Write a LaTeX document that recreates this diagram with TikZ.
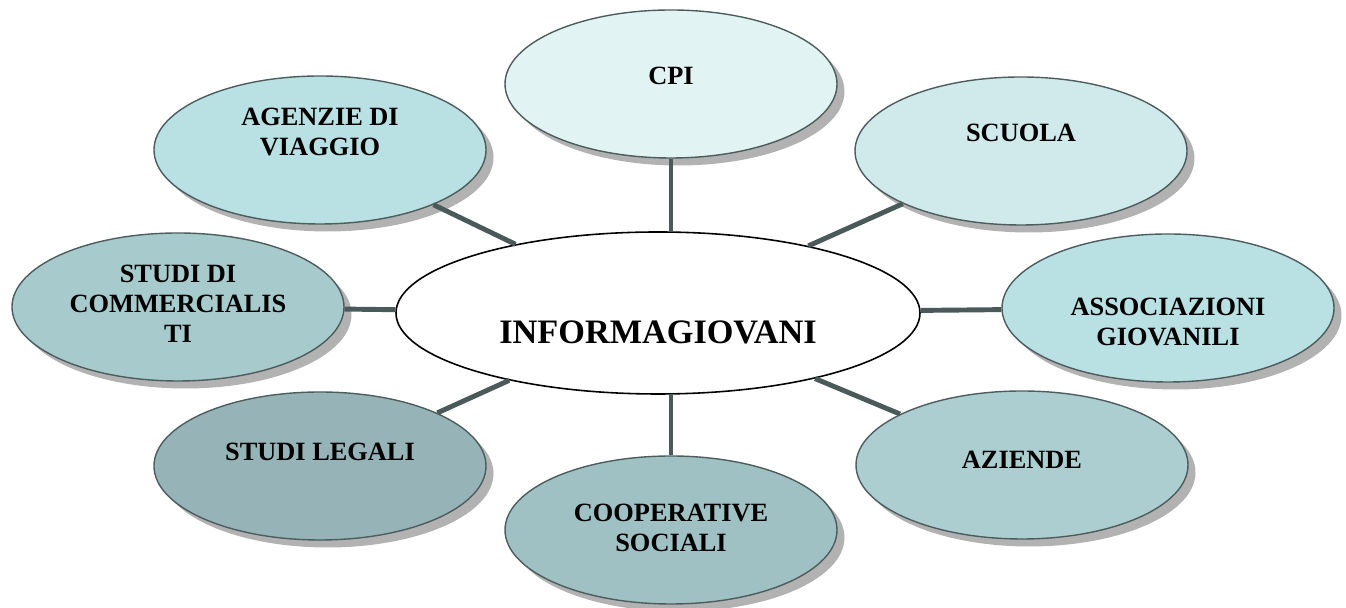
\documentclass[tikz,border=0pt]{standalone}
\usepackage{fontspec}
\setmainfont{Liberation Serif}
\usepackage{tikz}
\usetikzlibrary{shapes.geometric, shadows}
\definecolor{cpifill}{HTML}{E2F3F4}
\definecolor{scuolafill}{HTML}{D0E9EB}
\definecolor{agenziefill}{HTML}{B9E0E3}
\definecolor{assocfill}{HTML}{B9E0E3}
\definecolor{commercfill}{HTML}{A7CACC}
\definecolor{aziendefill}{HTML}{ACCED0}
\definecolor{coopfill}{HTML}{A0C1C3}
\definecolor{legalifill}{HTML}{96B4B7}
\definecolor{rim}{HTML}{4D5D5E}
\definecolor{spokecol}{HTML}{4A5A5A}
\tikzstyle{satellite} = [ellipse, minimum width=6.64cm, minimum height=2.96cm, inner sep=0pt, draw=rim, line width=0.8pt, drop shadow={shadow xshift=0.15cm, shadow yshift=-0.15cm, fill=black!30, opacity=1}]
\tikzstyle{hub} = [ellipse, minimum width=10.48cm, minimum height=3.24cm, inner sep=0pt, draw=black, line width=0.9pt, fill=white]
\tikzstyle{spoke} = [line width=2.8pt, draw=spokecol]
\tikzstyle{tag} = [align=center, inner sep=0pt, font={\fontsize{15pt}{17pt}\selectfont\bfseries}]
\tikzset{
  font={\fontsize{15pt}{17pt}\selectfont}}

\begin{document}
\begin{tikzpicture}
    \useasboundingbox (0,0) rectangle (26.92,12.16);

    \node (info) [hub] at (13.16,5.90) {};
    \node (cpi) [satellite, fill=cpifill] at (13.42,10.48) {};
    \node (scuola) [satellite, fill=scuolafill] at (20.42,9.14) {};
    \node (assoc) [satellite, fill=assocfill] at (23.36,6.00) {};
    \node (aziende) [satellite, fill=aziendefill] at (20.44,2.86) {};
    \node (coop) [satellite, fill=coopfill] at (13.42,1.56) {};
    \node (legali) [satellite, fill=legalifill] at (6.40,2.84) {};
    \node (commerc) [satellite, fill=commercfill] at (3.56,6.02) {};
    \node (agenzie) [satellite, fill=agenziefill] at (6.40,9.16) {};

    \draw [spoke] (cpi.south) -- (cpi.south |- info.north);
    \draw [spoke] (coop.north) -- (coop.north |- info.south);
    \draw [spoke] (info) -- (scuola);
    \draw [spoke] (info) -- (assoc);
    \draw [spoke] (info) -- (aziende);
    \draw [spoke] (info) -- (legali);
    \draw [spoke] (info) -- (commerc);
    \draw [spoke] (info) -- (agenzie);

    \node (infotext) [tag, font={\fontsize{19.5pt}{22pt}\selectfont\bfseries}] at ([yshift=-0.38cm]info.center) {INFORMAGIOVANI};
    \node (cpitext) [tag] at ([yshift=0.16cm]cpi.center) {CPI};
    \node (scuolatext) [tag] at ([yshift=0.36cm]scuola.center) {SCUOLA};
    \node (assoctext) [tag] at ([yshift=-0.28cm]assoc.center) {ASSOCIAZIONI\\GIOVANILI};
    \node (aziendetext) [tag] at ([yshift=0.10cm]aziende.center) {AZIENDE};
    \node (cooptext) [tag] at ([yshift=0.04cm]coop.center) {COOPERATIVE\\SOCIALI};
    \node (legalitext) [tag] at ([yshift=0.28cm]legali.center) {STUDI LEGALI};
    \node (commerctext) [tag] at ([yshift=0.06cm]commerc.center) {STUDI DI\\COMMERCIALIS\\TI};
    \node (agenzietext) [tag] at ([yshift=0.36cm]agenzie.center) {AGENZIE DI\\VIAGGIO};
\end{tikzpicture}
\end{document}
